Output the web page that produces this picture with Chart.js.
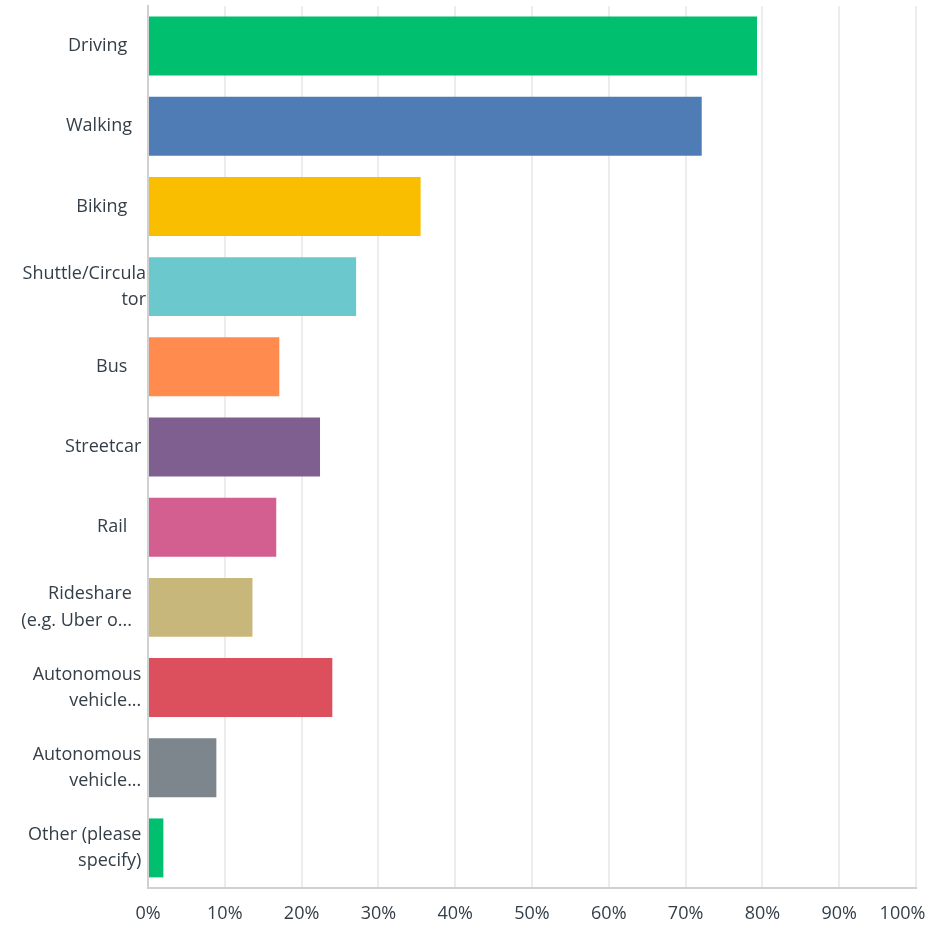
<!DOCTYPE html>
<html>
<head>
<meta charset="utf-8">
<script src="https://cdn.jsdelivr.net/npm/chart.js@4/dist/chart.umd.min.js"></script>
<style>
  html, body { margin: 0; padding: 0; background: #fff; }
  #wrap { position: relative; width: 935px; height: 926px; }
</style>
</head>
<body>
<div id="wrap"><canvas id="chart"></canvas></div>
<script>
// categorias (com quebra de linha como no original)
const categories = [
  'Driving    ',
  'Walking   ',
  'Biking    ',
  ['Shuttle/Circula', 'tor'],
  'Bus    ',
  'Streetcar ',
  'Rail    ',
  ['Rideshare   ', '(e.g. Uber o...   '],
  ['Autonomous ', 'vehicle... '],
  ['Autonomous ', 'vehicle... '],
  ['Other (please ', 'specify) ']
];
const values = [79.3, 72.1, 35.5, 27.1, 17.1, 22.4, 16.7, 13.6, 24.0, 8.9, 2.0];
const barColors = ['#00bf6f', '#507cb6', '#f9be00', '#6bc8cd', '#ff8b4f', '#7f5f90',
                   '#d25f90', '#c8b77a', '#dc4f5d', '#7d868c', '#00bf6f'];
const xTicks = [0, 10, 20, 30, 40, 50, 60, 70, 80, 90, 100];
const xTickLabels = ['0%', '10%', '20%', '30%', '40%', '50%', '60%', '70%', '80%', '90%', '100%\u2002\u2002\u2002'];

const ctx = document.getElementById('chart').getContext('2d');
const chart = new Chart(ctx, {
  type: 'bar',
  data: {
    labels: categories,
    datasets: [{
      data: values,
      backgroundColor: barColors,
      borderWidth: 0,
      barPercentage: 0.735,
      categoryPercentage: 1
    }]
  },
  options: {
    indexAxis: 'y',
    responsive: true,
    maintainAspectRatio: false,
    animation: false,
    layout: { padding: { top: 6, right: 19, left: 0, bottom: 0 } },
    plugins: {
      legend: { display: false },
      tooltip: { enabled: false }
    },
    scales: {
      x: {
        min: 0,
        max: 100,
        afterBuildTicks: function(scale) {
          scale.ticks = xTicks.map(v => ({ value: v }));
        },
        afterFit: function(scale) {
          scale.paddingLeft = 0;
          scale.paddingRight = 0;
          scale.height = 38;
        },
        ticks: {
          callback: function(value, i) { return xTickLabels[i]; },
          color: '#333e48',
          padding: 15,
          maxRotation: 0,
          minRotation: 0,
          autoSkip: false,
          font: { family: 'Open Sans', size: 18 }
        },
        grid: { color: '#ececec', lineWidth: 2, drawTicks: false },
        border: { color: '#d0d0d0', width: 2 }
      },
      y: {
        afterFit: function(scale) {
          scale.width = 148;
          scale.paddingTop = 0;
          scale.paddingBottom = 0;
        },
        ticks: {
          color: '#333e48',
          padding: 2,
          autoSkip: false,
          font: { family: 'Open Sans', size: 18, lineHeight: 1.45 }
        },
        grid: { display: false, drawTicks: false },
        border: { color: '#d0d0d0', width: 2 }
      }
    }
  }
});
</script>
</body>
</html>
